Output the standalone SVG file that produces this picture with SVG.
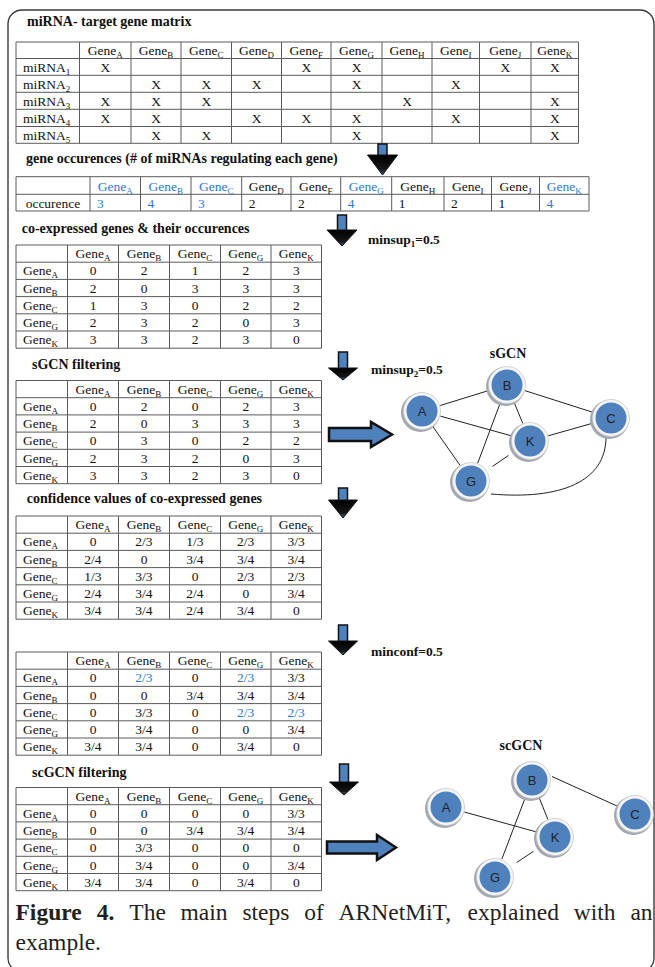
<svg xmlns="http://www.w3.org/2000/svg" width="655" height="967" viewBox="0 0 655 967">
<style>
.tt{font:bold 14px "Liberation Serif","Times New Roman",serif;fill:#111}
.lab{font:bold 13.5px "Liberation Serif","Times New Roman",serif;fill:#111}
.c{font:13.5px "Liberation Serif","Times New Roman",serif;fill:#111;text-anchor:middle}
.l{font:13.5px "Liberation Serif","Times New Roman",serif;fill:#111}
.s{font-size:9px}
.b{fill:#2a7ad0}
.grid{fill:none;stroke:#5a5a5a;stroke-width:1}
.shaft{fill:#4f81bd;stroke:#111;stroke-width:1.5}
.head{fill:url(#hg);stroke:#111;stroke-width:1;stroke-linejoin:miter}
.rarrow{fill:#4f81bd;stroke:#111;stroke-width:2.5;stroke-linejoin:miter}
.edge{stroke:#222;stroke-width:1;fill:none}
.sh{fill:#a3a8b0}
.ring{fill:#f5f5f5;stroke:#c9c9c9;stroke-width:0.8}
.core{fill:#4f81bd}
.nl{font:13px "Liberation Sans",Arial,sans-serif;fill:#222;text-anchor:middle}
.cap{font:23.5px "Liberation Serif","Times New Roman",serif;fill:#231f20}
</style>
<defs>
<linearGradient id="hg" x1="0" y1="0" x2="0" y2="1">
<stop offset="0" stop-color="#000"/><stop offset="0.7" stop-color="#151515"/><stop offset="1" stop-color="#3a5f8f"/>
</linearGradient>
<path id="grid5" d="M16,0H321.5V103.2H16Z M16,17.2H321.5 M16,34.4H321.5 M16,51.6H321.5 M16,68.8H321.5 M16,86H321.5 M67.5,0V103.2 M118.5,0V103.2 M169.5,0V103.2 M220.5,0V103.2 M271,0V103.2"/>
</defs>

<rect x="8" y="10" width="646" height="962" rx="14" fill="none" stroke="#3a3a3a" stroke-width="1.4"/>

<!-- miRNA target gene matrix -->
<g id="matrix">
<text class="tt" x="27" y="26">miRNA- target gene matrix</text>
<path class="grid" d="M16,42H578.5V143.3H16Z M16,58.5H578.5 M16,75.3H578.5 M16,92.3H578.5 M16,109.3H578.5 M16,126.5H578.5 M79.5,42V143.3 M131,42V143.3 M181,42V143.3 M231.5,42V143.3 M281.5,42V143.3 M331,42V143.3 M382,42V143.3 M432,42V143.3 M479.5,42V143.3 M531,42V143.3"/>
<text class="c" x="105.25" y="55">Gene<tspan class="s" dy="3">A</tspan></text>
<text class="c" x="156" y="55">Gene<tspan class="s" dy="3">B</tspan></text>
<text class="c" x="206.25" y="55">Gene<tspan class="s" dy="3">C</tspan></text>
<text class="c" x="256.5" y="55">Gene<tspan class="s" dy="3">D</tspan></text>
<text class="c" x="306.25" y="55">Gene<tspan class="s" dy="3">F</tspan></text>
<text class="c" x="356.5" y="55">Gene<tspan class="s" dy="3">G</tspan></text>
<text class="c" x="407" y="55">Gene<tspan class="s" dy="3">H</tspan></text>
<text class="c" x="455.75" y="55">Gene<tspan class="s" dy="3">I</tspan></text>
<text class="c" x="505.25" y="55">Gene<tspan class="s" dy="3">J</tspan></text>
<text class="c" x="554.75" y="55">Gene<tspan class="s" dy="3">K</tspan></text>
<text class="l" x="23" y="71.5">miRNA<tspan class="s" dy="3">1</tspan></text>
<text class="l" x="23" y="88.5">miRNA<tspan class="s" dy="3">2</tspan></text>
<text class="l" x="23" y="105.5">miRNA<tspan class="s" dy="3">3</tspan></text>
<text class="l" x="23" y="122.5">miRNA<tspan class="s" dy="3">4</tspan></text>
<text class="l" x="23" y="139.5">miRNA<tspan class="s" dy="3">5</tspan></text>
<text class="c" y="71.5"><tspan x="105.25">X</tspan><tspan x="306.25">X</tspan><tspan x="356.5">X</tspan><tspan x="505.25">X</tspan><tspan x="554.75">X</tspan></text>
<text class="c" y="88.5"><tspan x="156">X</tspan><tspan x="206.25">X</tspan><tspan x="256.5">X</tspan><tspan x="356.5">X</tspan><tspan x="455.75">X</tspan></text>
<text class="c" y="105.5"><tspan x="105.25">X</tspan><tspan x="156">X</tspan><tspan x="206.25">X</tspan><tspan x="407">X</tspan><tspan x="554.75">X</tspan></text>
<text class="c" y="122.5"><tspan x="105.25">X</tspan><tspan x="156">X</tspan><tspan x="256.5">X</tspan><tspan x="306.25">X</tspan><tspan x="356.5">X</tspan><tspan x="455.75">X</tspan><tspan x="554.75">X</tspan></text>
<text class="c" y="139.5"><tspan x="156">X</tspan><tspan x="206.25">X</tspan><tspan x="356.5">X</tspan><tspan x="554.75">X</tspan></text>
</g>

<!-- gene occurences -->
<g id="occurences">
<text class="tt" x="26" y="163">gene occurences (# of miRNAs regulating each gene)</text>
<path class="grid" d="M16,176.7H589V211H16Z M16,194.3H589 M90,176.7V211 M140.5,176.7V211 M191,176.7V211 M241.7,176.7V211 M291,176.7V211 M340.7,176.7V211 M391.7,176.7V211 M444,176.7V211 M491.5,176.7V211 M539.5,176.7V211"/>
<text class="c b" x="115.25" y="190.5">Gene<tspan class="s" dy="3">A</tspan></text>
<text class="c b" x="165.75" y="190.5">Gene<tspan class="s" dy="3">B</tspan></text>
<text class="c b" x="216.35" y="190.5">Gene<tspan class="s" dy="3">C</tspan></text>
<text class="c" x="266.35" y="190.5">Gene<tspan class="s" dy="3">D</tspan></text>
<text class="c" x="315.85" y="190.5">Gene<tspan class="s" dy="3">F</tspan></text>
<text class="c b" x="366.2" y="190.5">Gene<tspan class="s" dy="3">G</tspan></text>
<text class="c" x="417.85" y="190.5">Gene<tspan class="s" dy="3">H</tspan></text>
<text class="c" x="467.75" y="190.5">Gene<tspan class="s" dy="3">I</tspan></text>
<text class="c" x="515.5" y="190.5">Gene<tspan class="s" dy="3">J</tspan></text>
<text class="c b" x="564.25" y="190.5">Gene<tspan class="s" dy="3">K</tspan></text>
<text class="c" x="53" y="207.5">occurence</text>
<text class="l" y="207.5"><tspan class="b" x="97">3</tspan><tspan class="b" x="147.5">4</tspan><tspan class="b" x="198">3</tspan><tspan x="248.7">2</tspan><tspan x="298">2</tspan><tspan class="b" x="347.7">4</tspan><tspan x="398.7">1</tspan><tspan x="451">2</tspan><tspan x="498.5">1</tspan><tspan class="b" x="546.5">4</tspan></text>
</g>

<!-- co-expressed genes -->
<text class="tt" x="21.7" y="233">co-expressed genes &amp; their occurences</text>
<g id="coexpressed" transform="translate(0,245)">
<use href="#grid5" class="grid"/>
<text class="c" x="93" y="13">Gene<tspan class="s" dy="3">A</tspan></text>
<text class="c" x="144" y="13">Gene<tspan class="s" dy="3">B</tspan></text>
<text class="c" x="195" y="13">Gene<tspan class="s" dy="3">C</tspan></text>
<text class="c" x="245.75" y="13">Gene<tspan class="s" dy="3">G</tspan></text>
<text class="c" x="296.25" y="13">Gene<tspan class="s" dy="3">K</tspan></text>
<text class="l" x="23" y="30.4">Gene<tspan class="s" dy="3">A</tspan></text>
<text class="l" x="23" y="47.6">Gene<tspan class="s" dy="3">B</tspan></text>
<text class="l" x="23" y="64.8">Gene<tspan class="s" dy="3">C</tspan></text>
<text class="l" x="23" y="82">Gene<tspan class="s" dy="3">G</tspan></text>
<text class="l" x="23" y="99.2">Gene<tspan class="s" dy="3">K</tspan></text>
<text class="c" y="30.4"><tspan x="93">0</tspan><tspan x="144">2</tspan><tspan x="195">1</tspan><tspan x="245.75">2</tspan><tspan x="296.25">3</tspan></text>
<text class="c" y="47.6"><tspan x="93">2</tspan><tspan x="144">0</tspan><tspan x="195">3</tspan><tspan x="245.75">3</tspan><tspan x="296.25">3</tspan></text>
<text class="c" y="64.8"><tspan x="93">1</tspan><tspan x="144">3</tspan><tspan x="195">0</tspan><tspan x="245.75">2</tspan><tspan x="296.25">2</tspan></text>
<text class="c" y="82"><tspan x="93">2</tspan><tspan x="144">3</tspan><tspan x="195">2</tspan><tspan x="245.75">0</tspan><tspan x="296.25">3</tspan></text>
<text class="c" y="99.2"><tspan x="93">3</tspan><tspan x="144">3</tspan><tspan x="195">2</tspan><tspan x="245.75">3</tspan><tspan x="296.25">0</tspan></text>
</g>

<!-- sGCN filtering -->
<text class="tt" x="32" y="369">sGCN filtering</text>
<g id="sgcn-table" transform="translate(0,380.5)">
<use href="#grid5" class="grid"/>
<text class="c" x="93" y="13">Gene<tspan class="s" dy="3">A</tspan></text>
<text class="c" x="144" y="13">Gene<tspan class="s" dy="3">B</tspan></text>
<text class="c" x="195" y="13">Gene<tspan class="s" dy="3">C</tspan></text>
<text class="c" x="245.75" y="13">Gene<tspan class="s" dy="3">G</tspan></text>
<text class="c" x="296.25" y="13">Gene<tspan class="s" dy="3">K</tspan></text>
<text class="l" x="23" y="30.4">Gene<tspan class="s" dy="3">A</tspan></text>
<text class="l" x="23" y="47.6">Gene<tspan class="s" dy="3">B</tspan></text>
<text class="l" x="23" y="64.8">Gene<tspan class="s" dy="3">C</tspan></text>
<text class="l" x="23" y="82">Gene<tspan class="s" dy="3">G</tspan></text>
<text class="l" x="23" y="99.2">Gene<tspan class="s" dy="3">K</tspan></text>
<text class="c" y="30.4"><tspan x="93">0</tspan><tspan x="144">2</tspan><tspan x="195">0</tspan><tspan x="245.75">2</tspan><tspan x="296.25">3</tspan></text>
<text class="c" y="47.6"><tspan x="93">2</tspan><tspan x="144">0</tspan><tspan x="195">3</tspan><tspan x="245.75">3</tspan><tspan x="296.25">3</tspan></text>
<text class="c" y="64.8"><tspan x="93">0</tspan><tspan x="144">3</tspan><tspan x="195">0</tspan><tspan x="245.75">2</tspan><tspan x="296.25">2</tspan></text>
<text class="c" y="82"><tspan x="93">2</tspan><tspan x="144">3</tspan><tspan x="195">2</tspan><tspan x="245.75">0</tspan><tspan x="296.25">3</tspan></text>
<text class="c" y="99.2"><tspan x="93">3</tspan><tspan x="144">3</tspan><tspan x="195">2</tspan><tspan x="245.75">3</tspan><tspan x="296.25">0</tspan></text>
</g>

<!-- confidence values -->
<text class="tt" x="26.7" y="503">confidence values of co-expressed genes</text>
<g id="confidence-table" transform="translate(0,516)">
<use href="#grid5" class="grid"/>
<text class="c" x="93" y="13">Gene<tspan class="s" dy="3">A</tspan></text>
<text class="c" x="144" y="13">Gene<tspan class="s" dy="3">B</tspan></text>
<text class="c" x="195" y="13">Gene<tspan class="s" dy="3">C</tspan></text>
<text class="c" x="245.75" y="13">Gene<tspan class="s" dy="3">G</tspan></text>
<text class="c" x="296.25" y="13">Gene<tspan class="s" dy="3">K</tspan></text>
<text class="l" x="23" y="30.4">Gene<tspan class="s" dy="3">A</tspan></text>
<text class="l" x="23" y="47.6">Gene<tspan class="s" dy="3">B</tspan></text>
<text class="l" x="23" y="64.8">Gene<tspan class="s" dy="3">C</tspan></text>
<text class="l" x="23" y="82">Gene<tspan class="s" dy="3">G</tspan></text>
<text class="l" x="23" y="99.2">Gene<tspan class="s" dy="3">K</tspan></text>
<text class="c" y="30.4"><tspan x="93">0</tspan><tspan x="144">2/3</tspan><tspan x="195">1/3</tspan><tspan x="245.75">2/3</tspan><tspan x="296.25">3/3</tspan></text>
<text class="c" y="47.6"><tspan x="93">2/4</tspan><tspan x="144">0</tspan><tspan x="195">3/4</tspan><tspan x="245.75">3/4</tspan><tspan x="296.25">3/4</tspan></text>
<text class="c" y="64.8"><tspan x="93">1/3</tspan><tspan x="144">3/3</tspan><tspan x="195">0</tspan><tspan x="245.75">2/3</tspan><tspan x="296.25">2/3</tspan></text>
<text class="c" y="82"><tspan x="93">2/4</tspan><tspan x="144">3/4</tspan><tspan x="195">2/4</tspan><tspan x="245.75">0</tspan><tspan x="296.25">3/4</tspan></text>
<text class="c" y="99.2"><tspan x="93">3/4</tspan><tspan x="144">3/4</tspan><tspan x="195">2/4</tspan><tspan x="245.75">3/4</tspan><tspan x="296.25">0</tspan></text>
</g>

<!-- minconf table -->
<g id="minconf-table" transform="translate(0,652)">
<use href="#grid5" class="grid"/>
<text class="c" x="93" y="13">Gene<tspan class="s" dy="3">A</tspan></text>
<text class="c" x="144" y="13">Gene<tspan class="s" dy="3">B</tspan></text>
<text class="c" x="195" y="13">Gene<tspan class="s" dy="3">C</tspan></text>
<text class="c" x="245.75" y="13">Gene<tspan class="s" dy="3">G</tspan></text>
<text class="c" x="296.25" y="13">Gene<tspan class="s" dy="3">K</tspan></text>
<text class="l" x="23" y="30.4">Gene<tspan class="s" dy="3">A</tspan></text>
<text class="l" x="23" y="47.6">Gene<tspan class="s" dy="3">B</tspan></text>
<text class="l" x="23" y="64.8">Gene<tspan class="s" dy="3">C</tspan></text>
<text class="l" x="23" y="82">Gene<tspan class="s" dy="3">G</tspan></text>
<text class="l" x="23" y="99.2">Gene<tspan class="s" dy="3">K</tspan></text>
<text class="c" y="30.4"><tspan x="93">0</tspan><tspan class="b" x="144">2/3</tspan><tspan x="195">0</tspan><tspan class="b" x="245.75">2/3</tspan><tspan x="296.25">3/3</tspan></text>
<text class="c" y="47.6"><tspan x="93">0</tspan><tspan x="144">0</tspan><tspan x="195">3/4</tspan><tspan x="245.75">3/4</tspan><tspan x="296.25">3/4</tspan></text>
<text class="c" y="64.8"><tspan x="93">0</tspan><tspan x="144">3/3</tspan><tspan x="195">0</tspan><tspan class="b" x="245.75">2/3</tspan><tspan class="b" x="296.25">2/3</tspan></text>
<text class="c" y="82"><tspan x="93">0</tspan><tspan x="144">3/4</tspan><tspan x="195">0</tspan><tspan x="245.75">0</tspan><tspan x="296.25">3/4</tspan></text>
<text class="c" y="99.2"><tspan x="93">3/4</tspan><tspan x="144">3/4</tspan><tspan x="195">0</tspan><tspan x="245.75">3/4</tspan><tspan x="296.25">0</tspan></text>
</g>

<!-- scGCN filtering -->
<text class="tt" x="32" y="777">scGCN filtering</text>
<g id="scgcn-table" transform="translate(0,787.5)">
<use href="#grid5" class="grid"/>
<text class="c" x="93" y="13">Gene<tspan class="s" dy="3">A</tspan></text>
<text class="c" x="144" y="13">Gene<tspan class="s" dy="3">B</tspan></text>
<text class="c" x="195" y="13">Gene<tspan class="s" dy="3">C</tspan></text>
<text class="c" x="245.75" y="13">Gene<tspan class="s" dy="3">G</tspan></text>
<text class="c" x="296.25" y="13">Gene<tspan class="s" dy="3">K</tspan></text>
<text class="l" x="23" y="30.4">Gene<tspan class="s" dy="3">A</tspan></text>
<text class="l" x="23" y="47.6">Gene<tspan class="s" dy="3">B</tspan></text>
<text class="l" x="23" y="64.8">Gene<tspan class="s" dy="3">C</tspan></text>
<text class="l" x="23" y="82">Gene<tspan class="s" dy="3">G</tspan></text>
<text class="l" x="23" y="99.2">Gene<tspan class="s" dy="3">K</tspan></text>
<text class="c" y="30.4"><tspan x="93">0</tspan><tspan x="144">0</tspan><tspan x="195">0</tspan><tspan x="245.75">0</tspan><tspan x="296.25">3/3</tspan></text>
<text class="c" y="47.6"><tspan x="93">0</tspan><tspan x="144">0</tspan><tspan x="195">3/4</tspan><tspan x="245.75">3/4</tspan><tspan x="296.25">3/4</tspan></text>
<text class="c" y="64.8"><tspan x="93">0</tspan><tspan x="144">3/3</tspan><tspan x="195">0</tspan><tspan x="245.75">0</tspan><tspan x="296.25">0</tspan></text>
<text class="c" y="82"><tspan x="93">0</tspan><tspan x="144">3/4</tspan><tspan x="195">0</tspan><tspan x="245.75">0</tspan><tspan x="296.25">3/4</tspan></text>
<text class="c" y="99.2"><tspan x="93">3/4</tspan><tspan x="144">3/4</tspan><tspan x="195">0</tspan><tspan x="245.75">3/4</tspan><tspan x="296.25">0</tspan></text>
</g>

<!-- step arrows and thresholds -->
<g id="arrows">
<rect class="shaft" x="378" y="144" width="9" height="12"/>
<polygon class="head" points="367.5,155 397.5,155 382.5,175"/>
<rect class="shaft" x="337.5" y="215" width="9" height="16"/>
<polygon class="head" points="327,230 357,230 342,246"/>
<rect class="shaft" x="338.5" y="352" width="9" height="17"/>
<polygon class="head" points="328.5,368 357.5,368 343,380"/>
<rect class="shaft" x="338.5" y="488" width="9" height="13"/>
<polygon class="head" points="328.5,500 357.5,500 343,518"/>
<rect class="shaft" x="338.5" y="625" width="9" height="17"/>
<polygon class="head" points="328.5,641 357.5,641 343,655"/>
<rect class="shaft" x="339.5" y="764" width="9" height="19"/>
<polygon class="head" points="329.5,782 358.5,782 344,795"/>
<polygon class="rarrow" points="329,428 371,428 371,422 392,434.5 371,447 371,441 329,441"/>
<polygon class="rarrow" points="327,841.5 377,841.5 377,835 396,847.5 377,860 377,853.5 327,853.5"/>
</g>
<text class="lab" x="368" y="243.5">minsup<tspan class="s" dy="3">1</tspan><tspan dy="-3">=0.5</tspan></text>
<text class="lab" x="371" y="374">minsup<tspan class="s" dy="3">2</tspan><tspan dy="-3">=0.5</tspan></text>
<text class="lab" x="371" y="656">minconf=0.5</text>

<!-- sGCN graph -->
<text class="tt" x="508" y="358" text-anchor="middle">sGCN</text>
<g id="sgcn-edges">
<line class="edge" x1="440.2" y1="405.5" x2="488.8" y2="390.5"/>
<line class="edge" x1="525.1" y1="390.7" x2="592.9" y2="412.3"/>
<line class="edge" x1="548.3" y1="435.8" x2="592.7" y2="423.2"/>
<line class="edge" x1="440.3" y1="416.1" x2="511.7" y2="435.9"/>
<line class="edge" x1="514.2" y1="402.6" x2="522.8" y2="423.4"/>
<line class="edge" x1="500.3" y1="402.8" x2="477.7" y2="463.2"/>
<line class="edge" x1="432.9" y1="426.6" x2="460.1" y2="465.4"/>
<line class="edge" x1="492.5" y1="466.4" x2="508.5" y2="455.4"/>
<path class="edge" d="M606,437 C606,482 560,500 491,494"/>
</g>
<g id="sgcn-A"><circle class="sh" cx="420.5" cy="412.5" r="19.5"/><circle class="ring" cx="422" cy="411" r="18.5"/><circle class="core" cx="422" cy="411" r="15.5"/><text class="nl" x="422" y="415.5">A</text></g>
<g id="sgcn-B"><circle class="sh" cx="505.5" cy="386.5" r="19.5"/><circle class="ring" cx="507" cy="385" r="18.5"/><circle class="core" cx="507" cy="385" r="15.5"/><text class="nl" x="507" y="389.5">B</text></g>
<g id="sgcn-C"><circle class="sh" cx="609.5" cy="419.5" r="19.5"/><circle class="ring" cx="611" cy="418" r="18.5"/><circle class="core" cx="611" cy="418" r="15.5"/><text class="nl" x="611" y="422.5">C</text></g>
<g id="sgcn-K"><circle class="sh" cx="528.5" cy="442.5" r="19.5"/><circle class="ring" cx="530" cy="441" r="18.5"/><circle class="core" cx="530" cy="441" r="15.5"/><text class="nl" x="530" y="445.5">K</text></g>
<g id="sgcn-G"><circle class="sh" cx="469.5" cy="482.5" r="19.5"/><circle class="ring" cx="471" cy="481" r="18.5"/><circle class="core" cx="471" cy="481" r="15.5"/><text class="nl" x="471" y="485.5">G</text></g>

<!-- scGCN graph -->
<text class="tt" x="521" y="750" text-anchor="middle">scGCN</text>
<g id="scgcn-edges">
<line class="edge" x1="464.3" y1="812" x2="536.7" y2="832"/>
<line class="edge" x1="539.1" y1="797.6" x2="547.9" y2="819.4"/>
<line class="edge" x1="525.2" y1="797.8" x2="501.8" y2="859.2"/>
<line class="edge" x1="552" y1="776.5" x2="617" y2="806"/>
<line class="edge" x1="516.6" y1="862.6" x2="533.4" y2="851.4"/>
</g>
<g id="scgcn-A"><circle class="sh" cx="444.5" cy="808.5" r="19.5"/><circle class="ring" cx="446" cy="807" r="18.5"/><circle class="core" cx="446" cy="807" r="15.5"/><text class="nl" x="446" y="811.5">A</text></g>
<g id="scgcn-B"><circle class="sh" cx="530.5" cy="781.5" r="19.5"/><circle class="ring" cx="532" cy="780" r="18.5"/><circle class="core" cx="532" cy="780" r="15.5"/><text class="nl" x="532" y="784.5">B</text></g>
<g id="scgcn-C"><circle class="sh" cx="633.5" cy="815.5" r="19.5"/><circle class="ring" cx="635" cy="814" r="18.5"/><circle class="core" cx="635" cy="814" r="15.5"/><text class="nl" x="635" y="818.5">C</text></g>
<g id="scgcn-K"><circle class="sh" cx="553.5" cy="838.5" r="19.5"/><circle class="ring" cx="555" cy="837" r="18.5"/><circle class="core" cx="555" cy="837" r="15.5"/><text class="nl" x="555" y="841.5">K</text></g>
<g id="scgcn-G"><circle class="sh" cx="493.5" cy="878.5" r="19.5"/><circle class="ring" cx="495" cy="877" r="18.5"/><circle class="core" cx="495" cy="877" r="15.5"/><text class="nl" x="495" y="881.5">G</text></g>

<!-- caption -->
<text class="cap" y="920"><tspan x="15.5" font-weight="bold">Figure</tspan><tspan x="96.8" font-weight="bold">4.</tspan><tspan x="129.3">The</tspan><tspan x="180.6">main</tspan><tspan x="242.4">steps</tspan><tspan x="304.2">of</tspan><tspan x="338.6">ARNetMiT,</tspan><tspan x="467.6">explained</tspan><tspan x="573.8">with</tspan><tspan x="630.4">an</tspan></text>
<text class="cap" x="15.5" y="950">example.</text>
</svg>
